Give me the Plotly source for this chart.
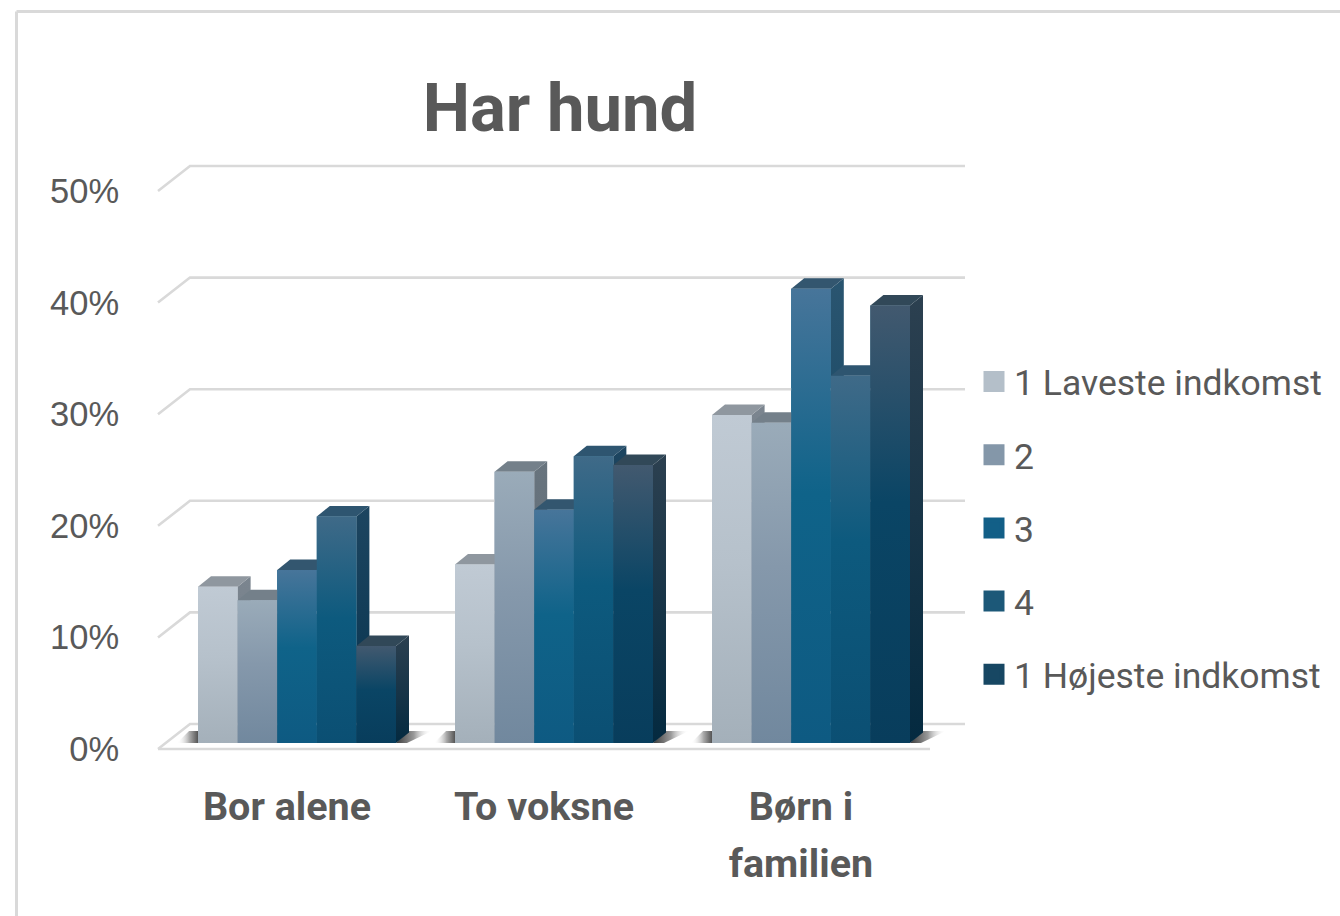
import plotly.graph_objects as go

# Values
categories = ["Bor alene", "To voksne", "Børn i<br>familien"]
series_names = ["1 Laveste indkomst", "2", "3", "4", "1 Højeste indkomst"]
low_income = [14.0, 16.0, 29.4]
income_2 = [12.8, 24.3, 28.7]
income_3 = [15.5, 20.9, 40.7]
income_4 = [20.3, 25.7, 32.9]
high_income = [8.7, 24.9, 39.2]
series_values = [low_income, income_2, income_3, income_4, high_income]
y_ticks = [0, 10, 20, 30, 40, 50]
y_tick_labels = ["0%", "10%", "20%", "30%", "40%", "50%"]

# Colours per series: top of bar, middle, bottom
front_colors = [
    ("#c0cad4", "#b6c1cb", "#a4b0ba"),
    ("#9aabb9", "#8598ab", "#71889e"),
    ("#47759a", "#0f6389", "#0e5a82"),
    ("#3f6a88", "#0d5a7e", "#0b4f73"),
    ("#42596f", "#0a4565", "#083d5c"),
]
side_colors = [("#7b858f", "#707a84"), ("#68747e", "#5c6872"), ("#2a5570", "#063a58"),
               ("#1d4560", "#06334e"), ("#2c4050", "#042a40")]
top_colors = ["#8f979f", "#74808a", "#33566f", "#2e5570", "#314858"]
legend_colors = ["#b4bfc9", "#8497a9", "#125f87", "#1c5878", "#174763"]

PX_PCT = 11.16  # pixels per percentage point
PX_UNIT = 257.0  # pixels between category centres
BAR_W = 39.6 / PX_UNIT
BAR_BASE = 6 / PX_PCT  # bars stand a little behind the front edge of the floor
BAR_DX, BAR_DY = 13 / PX_UNIT, 10.5 / PX_PCT
WALL_DX, WALL_DY = 32 / PX_UNIT, 25 / PX_PCT
AXIS_X = -139 / PX_UNIT
FRONT_END, BACK_END = 633 / PX_UNIT, 668 / PX_UNIT
LABEL_SHIFT = -10 / PX_UNIT  # category labels sit left of the bar groups
GRID = "#d9d9d9"
TEXT = "#595959"

# plot area in page pixels
L, R, T, B = 150, 970, 135, 760
PW, PH = R - L, B - T
def px(x):
    return (x - L) / PW
def py(y):
    return (B - y) / PH
def cat_label(text):
    return "<br>".join(f'<b><span style="font-size:39.5px">{line}</span></b>' for line in text.split("<br>"))

fig = go.Figure()

# walls and floor
gx, gy = [], []
for t in y_ticks:
    gx += [AXIS_X, AXIS_X + WALL_DX, BACK_END, None]
    gy += [t, t + WALL_DY, t + WALL_DY, None]
gx += [AXIS_X, FRONT_END]
gy += [0, 0]
fig.add_trace(go.Scatter(x=gx, y=gy, mode="lines", line=dict(color=GRID, width=2.6),
                         showlegend=False, hoverinfo="skip"))

# shadows on the floor beside each group
for c in range(len(categories)):
    left = c - 2.5 * BAR_W
    right = c + 2.5 * BAR_W
    y0, y1 = BAR_BASE, BAR_BASE + 12 / PX_PCT
    fig.add_trace(go.Scatter(
        x=[right, right + BAR_DX, right + BAR_DX + 23 / PX_UNIT, right + 11 / PX_UNIT, right],
        y=[y0, y1, y1, y0, y0], mode="lines", fill="toself", line=dict(width=0),
        fillgradient=dict(type="horizontal", colorscale=[[0, "#3c3c3c"], [0.5, "#9a9a9a"],
                                                         [1, "rgba(255,255,255,0)"]]),
        showlegend=False, hoverinfo="skip"))
    fig.add_trace(go.Scatter(
        x=[left - 21 / PX_UNIT, left - 9 / PX_UNIT, left, left, left - 21 / PX_UNIT],
        y=[y0, y1, y1, y0, y0], mode="lines", fill="toself", line=dict(width=0),
        fillgradient=dict(type="horizontal", colorscale=[[0, "rgba(255,255,255,0)"], [0.6, "#a8a8a8"],
                                                         [1, "#555555"]]),
        showlegend=False, hoverinfo="skip"))

# front faces as real bars, with the 3D faces laid over them
for j, (name, values) in enumerate(zip(series_names, series_values)):
    offs = (j - 2) * BAR_W
    fig.add_trace(go.Bar(x=[c + offs for c in range(len(values))], y=values, base=BAR_BASE,
                         width=BAR_W, marker=dict(color=front_colors[j][1], line=dict(width=0)),
                         showlegend=False, hoverinfo="skip"))
    top_c, mid_c, bot_c = front_colors[j]
    for c, v in enumerate(values):
        x0 = c + offs - BAR_W / 2
        x1 = x0 + BAR_W
        y0 = BAR_BASE
        y1 = BAR_BASE + v
        # side
        fig.add_trace(go.Scatter(
            x=[x1, x1 + BAR_DX, x1 + BAR_DX, x1, x1],
            y=[y0, y0 + BAR_DY, y1 + BAR_DY, y1, y0], mode="lines", fill="toself", line=dict(width=0),
            fillgradient=dict(type="vertical", colorscale=[[0, side_colors[j][1]], [1, side_colors[j][0]]]),
            showlegend=False, hoverinfo="skip"))
        # top
        fig.add_trace(go.Scatter(
            x=[x0, x0 + BAR_DX, x1 + BAR_DX, x1, x0],
            y=[y1, y1 + BAR_DY, y1 + BAR_DY, y1, y1], mode="lines", fill="toself",
            fillcolor=top_colors[j], line=dict(width=0), showlegend=False, hoverinfo="skip"))
        # front
        fig.add_trace(go.Scatter(
            x=[x0, x1, x1, x0, x0], y=[y0, y0, y1, y1, y0], mode="lines", fill="toself", line=dict(width=0),
            fillgradient=dict(type="vertical", colorscale=[[0, bot_c], [0.55, mid_c], [1, top_c]]),
            showlegend=False, hoverinfo="skip"))

# legend entries (plotly caps legend markers at 16px, the outline brings them up to size)
for j, name in enumerate(series_names):
    fig.add_trace(go.Scatter(
        x=[None], y=[None], mode="markers", name=name, legendgroup=name,
        marker=dict(symbol="square", size=16, color=legend_colors[j],
                    line=dict(color=legend_colors[j], width=5))))

# outer chart border, cut off by the picture on the right and bottom
fig.add_shape(type="line", xref="paper", yref="paper", x0=px(16.5), x1=px(1340), y0=py(11.5), y1=py(11.5),
              line=dict(color=GRID, width=3))
fig.add_shape(type="line", xref="paper", yref="paper", x0=px(16.5), x1=px(16.5), y0=py(11.5), y1=py(916),
              line=dict(color=GRID, width=3))

fig.update_layout(
    width=1340, height=916, autosize=False,
    margin=dict(l=L, r=1340 - R, t=T, b=916 - B, pad=0),
    paper_bgcolor="white", plot_bgcolor="white",
    barmode="overlay",
    title=dict(text="<b>Har hund</b>", x=560 / 1340, xanchor="center", xref="container",
               y=1 - 108 / 916, yanchor="middle", yref="container",
               font=dict(family="Roboto", size=67, color=TEXT)),
    legend=dict(x=px(974), y=py(352), xanchor="left", yanchor="top", tracegroupgap=24,
                itemsizing="trace", itemclick=False, bgcolor="rgba(0,0,0,0)",
                font=dict(family="Roboto", size=35.5, color=TEXT)),
)
fig.update_xaxes(range=[(L - 297) / PX_UNIT, (R - 297) / PX_UNIT], tickmode="array",
                 tickvals=[i + LABEL_SHIFT for i in range(len(categories))],
                 ticktext=[cat_label(c) for c in categories],
                 showgrid=False, zeroline=False, showline=False,
                 ticks="outside", ticklen=6, tickcolor="rgba(0,0,0,0)",
                 tickfont=dict(family="Roboto", size=44, color=TEXT))
fig.update_yaxes(range=[(749 - B) / PX_PCT, (749 - T) / PX_PCT], tickmode="array",
                 tickvals=y_ticks, ticktext=y_tick_labels,
                 showgrid=False, zeroline=False, showline=False,
                 ticks="outside", ticklen=23, tickcolor="rgba(0,0,0,0)",
                 tickfont=dict(family="Liberation Sans", size=34.5, color=TEXT))

# the page's default body margin would shift the chart by 8px
fig.write_html("out.html", config={"displayModeBar": False},
               post_script="document.body.style.margin='0';")
